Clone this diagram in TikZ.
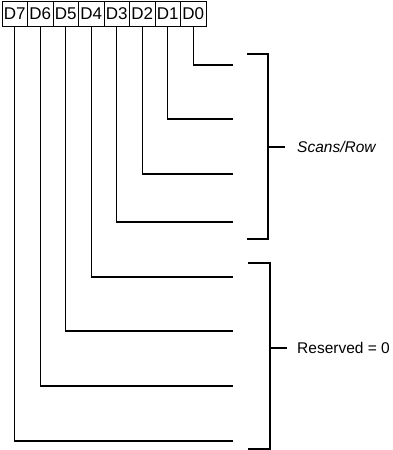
\documentclass[tikz,border=0pt]{standalone}
\usepackage{fontspec}
\setmainfont{Liberation Sans}
\usepackage{tikz}
\usetikzlibrary{positioning}

\tikzset{
  bitbox/.style={draw, line width=1pt, minimum width=25.5pt, minimum height=25pt,
                 inner sep=0pt, font=\fontsize{17}{19}\selectfont},
  wire/.style={line width=1.3pt},
  brace/.style={line width=1.3pt},
  lbl/.style={inner sep=0pt, anchor=west, font=\fontsize{15.5}{18}\selectfont}
}

\begin{document}
\begin{tikzpicture}[x=1pt, y=-1pt]
\useasboundingbox (0,0) rectangle (393,450);

% --- Register bits ---
\node[bitbox] (d7) at (14.75,13.5) {D7};
\node[bitbox] (d6) at (40.25,13.5) {D6};
\node[bitbox] (d5) at (65.75,13.5) {D5};
\node[bitbox] (d4) at (91.25,13.5) {D4};
\node[bitbox] (d3) at (116.75,13.5) {D3};
\node[bitbox] (d2) at (142.25,13.5) {D2};
\node[bitbox] (d1) at (167.75,13.5) {D1};
\node[bitbox] (d0) at (193.25,13.5) {D0};

% --- Line ends ---
\coordinate (e0) at (233,65);
\coordinate (e1) at (233,119);
\coordinate (e2) at (233,174);
\coordinate (e3) at (233,222);
\coordinate (e4) at (233,277);
\coordinate (e5) at (233,331);
\coordinate (e6) at (233,386);
\coordinate (e7) at (233,441);

% --- Bit lines ---
\draw[wire] (d0.south) |- (e0);
\draw[wire] (d1.south) |- (e1);
\draw[wire] (d2.south) |- (e2);
\draw[wire] (d3.south) |- (e3);
\draw[wire] (d4.south) |- (e4);
\draw[wire] (d5.south) |- (e5);
\draw[wire] (d6.south) |- (e6);
\draw[wire] (d7.south) |- (e7);

% --- Upper bracket: D0-D3 ---
\draw[brace] (247,54) -- (268,54) -- (268,239) -- (247,239);
\coordinate (ubrace) at (268,147);
\coordinate (utick) at (285,147);
\node[lbl, right=12pt of utick] (scanslbl) {\itshape Scans/Row};
\draw[brace] (ubrace) -- (utick);

% --- Lower bracket: D4-D7 ---
\draw[brace] (248,263) -- (270,263) -- (270,449) -- (248,449);
\coordinate (lbrace) at (270,348);
\coordinate (ltick) at (287,348);
\node[lbl, right=10pt of ltick] (reservedlbl) {Reserved = 0};
\draw[brace] (lbrace) -- (ltick);

\end{tikzpicture}
\end{document}
